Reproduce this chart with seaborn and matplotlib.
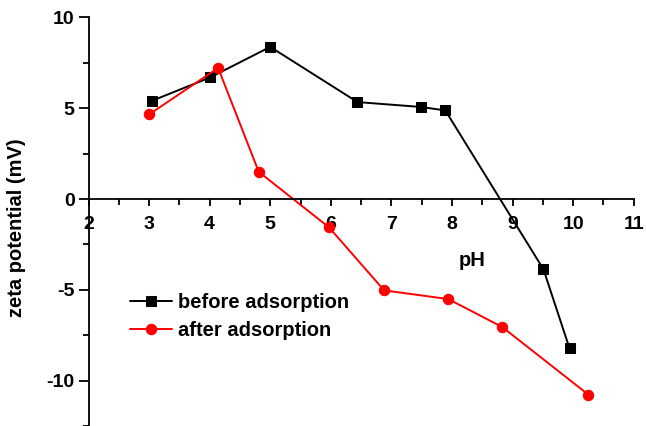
import matplotlib
matplotlib.use("Agg")
import matplotlib.pyplot as plt
import seaborn as sns
import pandas as pd
from matplotlib.ticker import MultipleLocator

sns.set_style("white")
plt.rcParams['font.family'] = ['Liberation Sans', 'DejaVu Sans']
plt.rcParams['font.weight'] = 'bold'
plt.rcParams['axes.unicode_minus'] = False
plt.rcParams['xtick.bottom'] = True
plt.rcParams['ytick.left'] = True
plt.rcParams['text.color'] = 'black'
plt.rcParams['axes.labelcolor'] = 'black'

ph_before = [3.04, 4.01, 5.0, 6.44, 7.49, 7.89, 9.51, 9.94]
zeta_before = [5.40, 6.70, 8.38, 5.34, 5.07, 4.88, -3.87, -8.22]
ph_after = [3.0, 4.14, 4.81, 5.97, 6.88, 7.94, 8.83, 10.25]
zeta_after = [4.66, 7.22, 1.50, -1.56, -5.03, -5.51, -7.05, -10.77]
labels = ["before adsorption", "after adsorption"]

df_b = pd.DataFrame({"pH": ph_before, "zeta": zeta_before})
df_a = pd.DataFrame({"pH": ph_after, "zeta": zeta_after})

fig = plt.figure(figsize=(6.46, 4.26), dpi=100)
ax = fig.add_axes([0.137, 0.0, 0.844, 0.959])

sns.lineplot(data=df_b, x="pH", y="zeta", ax=ax, color="black", marker="s",
             markersize=6.5, markeredgecolor="black", linewidth=1.4, sort=False,
             label=labels[0])
sns.lineplot(data=df_a, x="pH", y="zeta", ax=ax, color="#ff0000", marker="o",
             markersize=7.5, markeredgecolor="#ff0000", linewidth=1.4, sort=False,
             label=labels[1])

ax.set_xlim(2, 11)
ax.set_ylim(-12.5, 10)
ax.spines['top'].set_visible(False)
ax.spines['right'].set_visible(False)
ax.spines['bottom'].set_position(('data', 0))
for s in ['left', 'bottom']:
    ax.spines[s].set_linewidth(1.3)
    ax.spines[s].set_color('black')

ax.xaxis.set_major_locator(MultipleLocator(1))
ax.xaxis.set_minor_locator(MultipleLocator(0.5))
ax.yaxis.set_major_locator(MultipleLocator(5))
ax.yaxis.set_minor_locator(MultipleLocator(2.5))
ax.tick_params(axis='both', which='major', direction='out', length=7, width=1.3,
               labelsize=14, colors='black', pad=3)
ax.tick_params(axis='both', which='minor', direction='out', length=4, width=1.3,
               colors='black')
ax.tick_params(axis='x', which='major', length=5, pad=7)
ax.tick_params(axis='x', which='minor', length=4)
for lab in ax.get_xticklabels() + ax.get_yticklabels():
    lab.set_fontweight('bold')

ax.set_xlabel("pH", fontsize=14.5, fontweight='bold', color='black')
ax.xaxis.set_label_coords(0.703, 0.428)
ax.set_ylabel("zeta potential (mV)", fontsize=14.5, fontweight='bold', color='black')
ax.yaxis.set_label_coords(-0.115, 0.485)

leg = ax.legend(loc='upper left', bbox_to_anchor=(0.061, 0.345), frameon=False,
                fontsize=14.5, handlelength=2.1, handletextpad=0.3, labelspacing=0.45,
                borderaxespad=0)
for t in leg.get_texts():
    t.set_fontweight('bold')
    t.set_color('black')

fig.savefig("out.png", dpi=100)
